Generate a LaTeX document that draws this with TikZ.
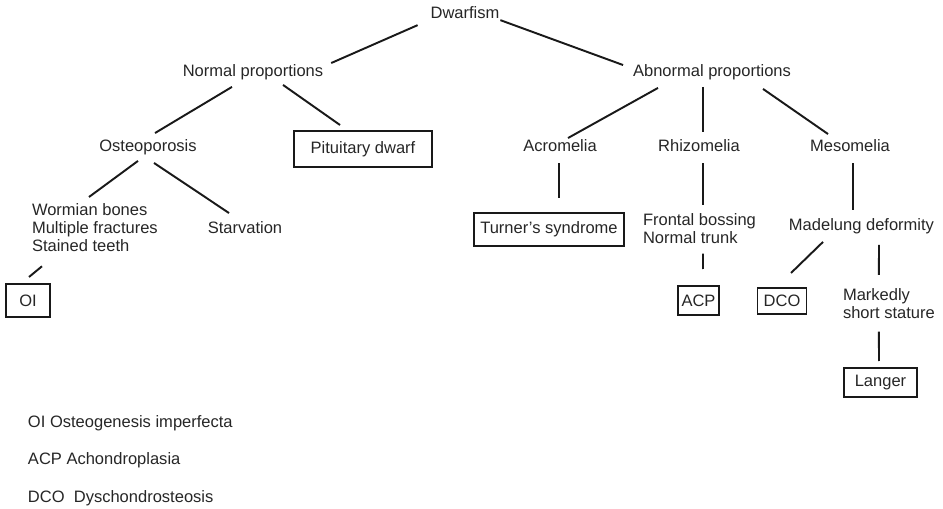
\documentclass[tikz,border=0pt]{standalone}
\usepackage{fontspec}
\setmainfont{Liberation Sans}
\usetikzlibrary{calc}

\tikzset{
  txt/.style={inner sep=0pt, outer sep=0pt, text=black!85, font=\fontsize{9.4}{10}\selectfont},
  para/.style={txt, align=left},
  cbox/.style={txt, draw=black!90, line width=1.1pt},
  link/.style={line width=1.1pt, draw=black!90}
}

\begin{document}
\begin{tikzpicture}[x=0.02cm, y=-0.02cm]
  \useasboundingbox (0,0) rectangle (943,509);
  % top levels
  \node[txt, anchor=base] (dw) at (465,19) {Dwarfism};
  \node[txt, anchor=base] (np) at (253,77) {Normal proportions};
  \node[txt, anchor=base] (ap) at (712,77) {Abnormal proportions};
  \node[txt, anchor=base] (ost) at (148,152) {Osteoporosis};
  \node[cbox, minimum width=2.76cm, minimum height=0.72cm] (pit) at (363,149) {Pituitary dwarf};
  \node[txt, anchor=base] (acr) at (560,152) {Acromelia};
  \node[txt, anchor=base] (rhi) at (699,152) {Rhizomelia};
  \node[txt, anchor=base] (mes) at (850,152) {Mesomelia};
  % lower levels
  \node[para, anchor=north west] (wor) at (32,204) {Wormian bones\\Multiple fractures\\Stained teeth};
  \node[txt, anchor=base] (sta) at (245,234) {Starvation};
  \node[cbox, minimum width=0.88cm, minimum height=0.66cm] (oi) at (28,300.5) {OI};
  \node[cbox, minimum width=3.0cm, minimum height=0.66cm] (tur) at (549,229.5) {Turner's syndrome};
  \node[para, anchor=north west] (fro) at (643,214) {Frontal bossing\\Normal trunk};
  \node[cbox, minimum width=0.82cm, minimum height=0.58cm] (acp) at (698.5,300.5) {ACP};
  \node[txt, anchor=base] (mad) at (861.5,231) {Madelung deformity};
  \node[cbox, minimum width=0.98cm, minimum height=0.52cm] (dco) at (782,301) {DCO};
  \node[para, anchor=north west] (mar) at (843,289) {Markedly\\short stature};
  \node[cbox, minimum width=1.46cm, minimum height=0.58cm] (lan) at (880.5,382.5) {Langer};
  % key
  \node[txt, anchor=base west] (k1) at (28,428) {OI Osteogenesis imperfecta};
  \node[txt, anchor=base west] (k2) at (28,465) {ACP Achondroplasia};
  \node[txt, anchor=base west] (k3) at (28,502) {DCO~ Dyschondrosteosis};
  % connectors
  \draw[link] ($(dw.south west)+(-13,6)$) -- ($(np.north east)+(8,-2)$);
  \draw[link] ($(dw.south east)+(1,1)$) -- ($(ap.north west)+(-10,0)$);
  \draw[link] ($(np.south)+(-21,6.5)$) -- ($(ost.north)+(7,-7)$);
  \draw[link] ($(np.south)+(30,4.5)$) -- ($(pit.north)+(-23,-6)$);
  \draw[link] ($(ost.south)+(-10,5.5)$) -- ($(wor.north west)+(57,-7)$);
  \draw[link] ($(ost.south)+(6,7.5)$) -- ($(sta.north)+(-16,-9)$);
  \draw[link] ($(wor.south west)+(10,15)$) -- ($(oi.north)+(1,-7)$);
  \draw[link] ($(ap.south)+(-54,7.5)$) -- ($(acr.north)+(8,-2)$);
  \draw[link] ($(ap.south)+(-9,6.5)$) -- ($(rhi.north)+(4,-8)$);
  \draw[link] ($(ap.south)+(51,8.5)$) -- ($(mes.north)+(-22,-6)$);
  \draw[link] ($(acr.south)+(-1,11)$) -- ($(tur.north)+(10,-15)$);
  \draw[link] ($(rhi.south)+(4,11)$) -- ($(fro.north)+(3.5,-9)$);
  \draw[link] ($(fro.south)+(3.5,10)$) -- ($(acp.north)+(4.5,-17)$);
  \draw[link] ($(mes.south)+(3,11)$) -- ($(mad.north)+(-8.5,-9)$);
  \draw[link] ($(mad.south)+(-38.5,7.5)$) -- ($(dco.north)+(9,-15)$);
  \draw[link] ($(mad.south)+(17.5,10.5)$) -- ($(mar.north)+(-10,-14)$);
  \draw[link] ($(mar.south)+(-10,13)$) -- ($(lan.north)+(-1.5,-7)$);
\end{tikzpicture}
\end{document}
